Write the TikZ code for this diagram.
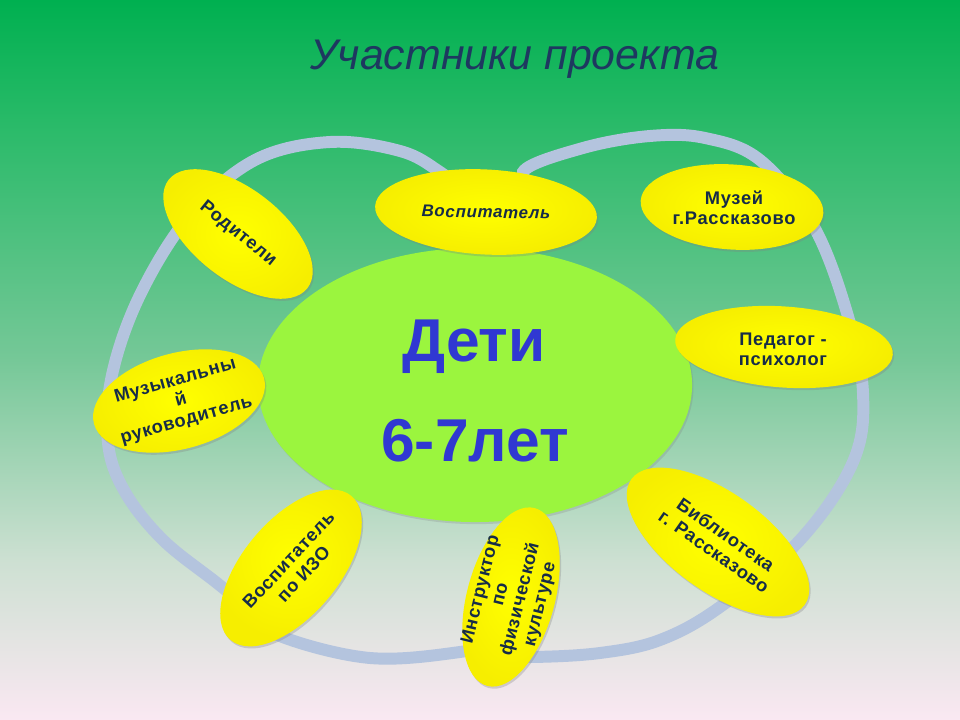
\documentclass[tikz,border=0pt]{standalone}
\usepackage{fontspec}
\setmainfont{Liberation Sans}
\usepackage{tikz}
\usetikzlibrary{shapes.geometric}
\usetikzlibrary{shadows}

\definecolor{bgA}{RGB}{0,176,80}
\definecolor{bgB}{RGB}{40,186,104}
\definecolor{bgC}{RGB}{118,200,152}
\definecolor{bgD}{RGB}{205,224,210}
\definecolor{bgE}{RGB}{250,232,242}
\definecolor{ringc}{RGB}{180,196,222}
\definecolor{kidsgreen}{RGB}{155,245,62}
\definecolor{kidsblue}{RGB}{48,56,210}
\definecolor{petalink}{RGB}{22,44,72}
\definecolor{titleink}{RGB}{30,56,96}
\definecolor{petalyellow}{RGB}{255,255,0}
\definecolor{petaledge}{RGB}{246,238,0}

\begin{document}
\begin{tikzpicture}[x=0.025cm,y=-0.025cm]
\tikzstyle{petal} = [ellipse, inner sep=0pt, inner color=petalyellow, outer color=petaledge, drop shadow={opacity=0.3, shadow xshift=1pt, shadow yshift=-1.5pt}]
\tikzstyle{petaltext} = [text=petalink, font=\bfseries\fontsize{13}{14.5}\selectfont\addfontfeature{LetterSpace=4}, align=center, inner sep=0pt]
\tikzstyle{ring} = [draw=ringc, line width=8.5pt]
\tikzstyle{kids} = [ellipse, fill=kidsgreen, inner sep=0pt, minimum width=10.85cm, minimum height=6.85cm, drop shadow={opacity=0.25, shadow xshift=1pt, shadow yshift=-1.5pt}]
\tikzstyle{kidstext} = [text=kidsblue, font=\bfseries\fontsize{43}{50}\selectfont, anchor=base]

\useasboundingbox (0,0) rectangle (960,720);
\shade[top color=bgA,bottom color=bgB] (0,0) rectangle (960,121);
\shade[top color=bgB,bottom color=bgC] (0,120) rectangle (960,361);
\shade[top color=bgC,bottom color=bgD] (0,360) rectangle (960,561);
\shade[top color=bgD,bottom color=bgE] (0,560) rectangle (960,720);

\node[text=titleink, font=\itshape\fontsize{30.5}{36}\selectfont, anchor=base](title) at (515,70){Участники проекта};

\draw[ring] plot[smooth,tension=0.6] coordinates {(482,205) (440,172) (400,151) (330,142) (255,160) (190,215) (140,295) (112,375) (108,443) (125,492) (163,540) (217,583) (250,610) (280,636) (370,658) (460,652) (505,640)};
\draw[ring] plot[smooth,tension=0.6] coordinates {(555,200) (523,172) (583,148) (650,136) (705,138) (760,160) (813,225) (847,313) (863,393) (853,462) (800,540) (720,607) (660,640) (600,653) (533,657) (495,655)};

\node[kids](deti) at (475,385){};
\node[kidstext](detiA) at (474,362){Дети};
\node[kidstext](detiB) at (475,462){6-7лет};

\node[petal,minimum width=4.4cm,minimum height=2.25cm,rotate=-38](roditeli) at (238,234){};
\node[petaltext,rotate=-39] at (roditeli){Родители};
\node[petal,minimum width=5.55cm,minimum height=2.125cm,rotate=-3](vospit) at (486,212){};
\node[petaltext,font=\bfseries\itshape\fontsize{12}{14}\selectfont\addfontfeature{LetterSpace=4},rotate=-1] at (vospit){Воспитатель};
\node[petal,minimum width=4.575cm,minimum height=2.125cm,rotate=-4](muzei) at (732,207){};
\node[petaltext] at (734,208){Музей\\г.Рассказово};
\node[petal,minimum width=5.45cm,minimum height=2.025cm,rotate=-4](pedagog) at (784,347){};
\node[petaltext] at (783,349){Педагог -\\психолог};
\node[petal,minimum width=4.4cm,minimum height=2.4cm,rotate=15](muzruk) at (179,401){};
\node[petaltext,rotate=16] at (181,401){Музыкальны\\й\\руководитель};
\node[petal,minimum width=4.7cm,minimum height=2.4cm,rotate=50](izo) at (291,568){};
\node[petaltext,rotate=47] at (296,567){Воспитатель\\по ИЗО};
\node[petal,minimum width=4.6cm,minimum height=2.2cm,rotate=75](fizo) at (511,597){};
\node[petaltext,rotate=76] at (fizo){Инструктор\\по\\физической\\культуре};
\node[petal,minimum width=5.35cm,minimum height=2.45cm,rotate=-36](biblio) at (718,542){};
\node[petaltext,rotate=-35] at (720,543){Библиотека\\г. Рассказово};
\end{tikzpicture}
\end{document}
